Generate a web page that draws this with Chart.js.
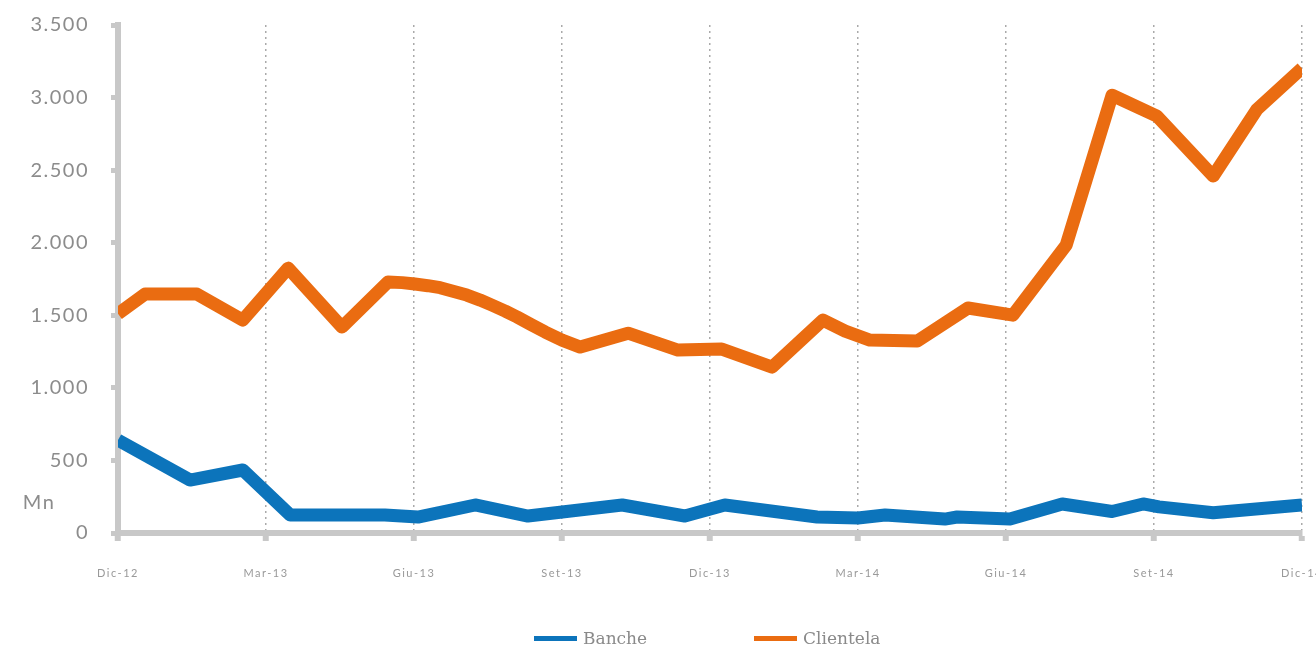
<!DOCTYPE html>
<html lang="it">
<head>
<meta charset="utf-8">
<title>Banche e Clientela</title>
<script src="https://cdn.jsdelivr.net/npm/chart.js@4"></script>
<style>
    html, body { margin: 0; padding: 0; background: #fff; overflow: hidden; }
    #wrap { position: relative; width: 1316px; height: 648px; }
    #legend {
        position: absolute; left: 534px; top: 628px; display: flex;
        font-family: "DejaVu Serif", serif; font-size: 17px; color: #8a8a8a;
    }
    .item { display: flex; align-items: center; margin-right: 107px; }
    .swatch { width: 43px; height: 5px; margin-right: 6px; }
</style>
</head>
<body>
<div id="wrap">
    <canvas id="stockChart"></canvas>
    <div id="legend"></div>
</div>
<script>
// Tick labels (one every 3 months, x = months from Dic-12)
const xTickLabels = ["Dic-12", "Mar-13", "Giu-13", "Set-13", "Dic-13", "Mar-14", "Giu-14", "Set-14", "Dic-14"];
const yMax = 3500;
const yStep = 500;

// Banche (Mn)
const bancheMonths = [0, 1.46, 2.53, 3.49, 5.41, 6.08, 7.24, 8.31, 10.22, 11.49, 12.3, 14.17, 15.0, 15.55, 16.76, 17.01, 18.08, 19.14, 20.15, 20.78, 21.1, 22.2, 24];
const bancheValues = [640, 365, 434, 124, 124, 110, 193, 117, 193, 117, 193, 110, 103, 124, 96, 110, 96, 200, 148, 200, 180, 140, 193];

// Clientela (Mn)
const clientelaMonths = [0, 0.55, 1.6, 2.53, 3.45, 4.54, 5.47, 5.76, 6.02, 6.28, 6.53, 6.79, 7.07, 7.34, 7.58, 7.85, 8.09, 8.37, 8.66, 9.0, 9.37, 10.34, 11.35, 12.24, 13.26, 14.29, 14.74, 15.24, 16.2, 17.23, 18.14, 19.22, 20.15, 21.06, 22.2, 23.09, 24];
const clientelaValues = [1510, 1646, 1646, 1467, 1825, 1419, 1729, 1725, 1715, 1704, 1690, 1666, 1639, 1605, 1570, 1529, 1488, 1436, 1384, 1329, 1281, 1377, 1260, 1267, 1143, 1467, 1391, 1329, 1322, 1550, 1501, 1983, 3016, 2872, 2459, 2920, 3202];

const blue = "#0c74bb";
const orange = "#ea6c11";
const axisGray = "#c8c8c8";
const textGray = "#8c8c8c";

function toPoints(xs, ys) {
    return xs.map((x, i) => ({ x: x, y: ys[i] }));
}

function formatThousands(v) {
    return String(v).replace(/\B(?=(\d{3})+(?!\d))/g, ".");
}

// wide letter spacing for the axis texts
const spacing = {
    id: "spacing",
    beforeDraw(chart) {
        chart.ctx.letterSpacing = "1.5px";
    }
};

// "Mn" unit label beside the y axis
const unitLabel = {
    id: "unitLabel",
    afterDraw(chart) {
        const ctx = chart.ctx;
        const y = chart.scales.y.getPixelForValue(210);
        ctx.save();
        ctx.font = "20px Lato";
        ctx.fillStyle = textGray;
        ctx.textAlign = "center";
        ctx.textBaseline = "middle";
        ctx.fillText("Mn", 39, y);
        ctx.restore();
    }
};

const ctx = document.getElementById("stockChart").getContext("2d");

window.stockChartInstance = new Chart(ctx, {
    type: "line",
    data: {
        datasets: [{
            label: "Banche",
            data: toPoints(bancheMonths, bancheValues),
            borderColor: blue,
            backgroundColor: blue,
            borderWidth: 13,
            borderJoinStyle: "round",
            pointRadius: 0,
            tension: 0
        }, {
            label: "Clientela",
            data: toPoints(clientelaMonths, clientelaValues),
            borderColor: orange,
            backgroundColor: orange,
            borderWidth: 13,
            borderJoinStyle: "round",
            pointRadius: 0,
            tension: 0
        }]
    },
    options: {
        responsive: true,
        maintainAspectRatio: false,
        animation: false,
        layout: { padding: { top: 25, right: 14, left: 0, bottom: 0 } },
        plugins: {
            legend: { display: false },
            tooltip: { enabled: false }
        },
        scales: {
            x: {
                type: "linear",
                min: 0,
                max: 24,
                afterFit(scale) {
                    scale.height = 115;
                    scale.paddingRight = 0;
                    scale.paddingLeft = 0;
                },
                ticks: {
                    stepSize: 3,
                    autoSkip: false,
                    maxRotation: 0,
                    padding: 26,
                    color: "#999",
                    font: { family: "Lato", size: 11 },
                    callback: (v) => xTickLabels[v / 3]
                },
                grid: {
                    color: "#aaa",
                    lineWidth: 1.5,
                    tickColor: axisGray,
                    tickWidth: 6,
                    tickLength: 8,
                    tickBorderDash: []
                },
                border: { display: true, color: axisGray, width: 6, dash: [2, 4] }
            },
            y: {
                min: 0,
                max: yMax,
                afterFit(scale) {
                    scale.width = 118;
                    scale.paddingTop = 0;
                    scale.paddingBottom = 0;
                },
                ticks: {
                    stepSize: yStep,
                    padding: 22,
                    color: textGray,
                    font: { family: "Lato", size: 20 },
                    callback: (v) => formatThousands(v)
                },
                grid: {
                    drawOnChartArea: false,
                    tickColor: axisGray,
                    tickWidth: 5,
                    tickLength: 7
                },
                border: { display: true, color: axisGray, width: 6 }
            }
        }
    },
    plugins: [spacing, unitLabel]
});

// HTML legend built from the datasets
const legendEl = document.getElementById("legend");
window.stockChartInstance.data.datasets.forEach(ds => {
    const item = document.createElement("div");
    item.className = "item";
    const sw = document.createElement("span");
    sw.className = "swatch";
    sw.style.background = ds.borderColor;
    const txt = document.createElement("span");
    txt.textContent = ds.label;
    item.appendChild(sw);
    item.appendChild(txt);
    legendEl.appendChild(item);
});
</script>
</body>
</html>
